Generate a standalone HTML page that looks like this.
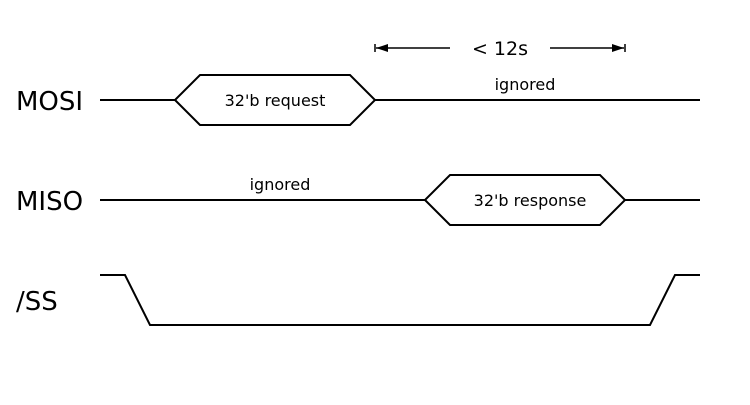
<!DOCTYPE html>
<html><head><style>body{margin:0;background:#fff}</style></head><body>
<svg width="750" height="400" xmlns="http://www.w3.org/2000/svg" font-family="DejaVu Sans, Liberation Sans, sans-serif">
<g fill="none" stroke="#000" stroke-width="2">
<path d="M100 100H175L200 75H350L375 100L350 125H200L175 100M375 100H700"/>
<path d="M100 200H425L450 175H600L625 200L600 225H450L425 200M625 200H700"/>
<path d="M100 275H125L150 325H650L675 275H700"/>
<path d="M376 48H450M550 48H624" stroke-width="1.5"/>
<path d="M375 44V52M625 44V52" stroke-width="1.5"/>
</g>
<path d="M376 48L388 44V52Z M624 48L612 44V52Z" fill="#000"/>
<g font-size="26" fill="#000">
<text x="16" y="110">MOSI</text>
<text x="16" y="210">MISO</text>
<text x="16" y="310">/SS</text>
</g>
<g font-size="16" fill="#000" text-anchor="middle">
<text x="275" y="106">32'b request</text>
<text x="530" y="206">32'b response</text>
<text x="525" y="90">ignored</text>
<text x="280" y="190">ignored</text>
<text x="500" y="55" font-size="19">&lt; 12s</text>
</g>
</svg>
</body></html>
